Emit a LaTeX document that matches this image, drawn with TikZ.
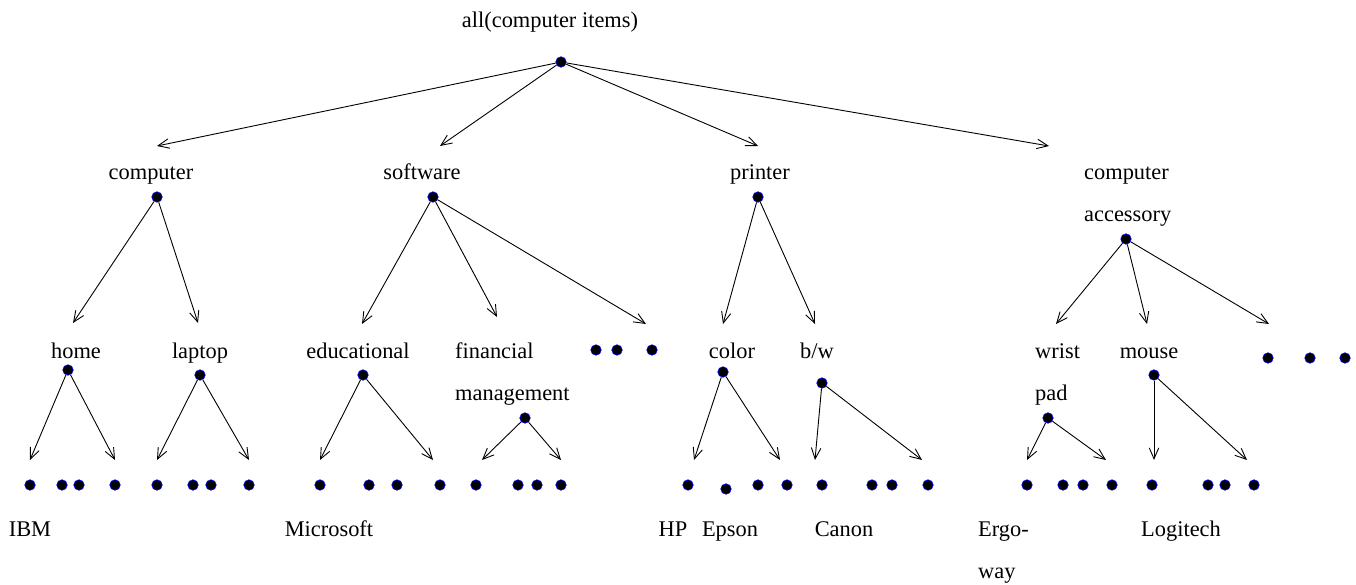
\documentclass[tikz,border=0pt]{standalone}
\usepackage{fontspec}
\setmainfont{Liberation Serif}
\usetikzlibrary{arrows.meta}
\tikzset{
  bluedot/.style={circle, fill=black, draw=blue, line width=0.6pt, inner sep=0pt, minimum size=10.5pt},
  lbl/.style={font=\fontsize{22.4}{27}\selectfont, inner sep=0pt, anchor=base},
  lbll/.style={lbl, anchor=base west},
  edge/.style={line width=0.9pt, -{Straight Barb[length=11pt,width=9.5pt,line width=0.9pt]}}
}
\begin{document}
\begin{tikzpicture}[x=1pt,y=-1pt]
\useasboundingbox (0,0) rectangle (1356,585);
% labels
\node[lbl] (Lroot) at (550,28) {all(computer items)};
\node[lbl] (Lcomp) at (151,180) {computer};
\node[lbl] (Lsoft) at (422,180) {software};
\node[lbl] (Lprin) at (760,180) {printer};
\node[lbll] (Lacc1) at (1084,180) {computer};
\node[lbll] (Lacc2) at (1084,222) {accessory};
\node[lbl] (Lhome) at (76,358) {home};
\node[lbl] (Llap) at (200,358) {laptop};
\node[lbl] (Ledu) at (358,358) {educational};
\node[lbll] (Lfin1) at (455,358) {financial};
\node[lbll] (Lfin2) at (455,400) {management};
\node[lbl] (Lcol) at (732,358) {color};
\node[lbl] (Lbw) at (817,358) {b/w};
\node[lbll] (Lwr1) at (1035,358) {wrist};
\node[lbll] (Lwr2) at (1035,400) {pad};
\node[lbl] (Lmou) at (1149,358) {mouse};
\node[lbl] (Libm) at (30,536) {IBM};
\node[lbl] (Lms) at (329,536) {Microsoft};
\node[lbl] (Lhp) at (673,536) {HP};
\node[lbl] (Leps) at (730,536) {Epson};
\node[lbl] (Lcan) at (844,536) {Canon};
\node[lbll] (Lerg1) at (978,536) {Ergo-};
\node[lbll] (Lerg2) at (978,578) {way};
\node[lbl] (Llog) at (1181,536) {Logitech};
% concept dots
\node[bluedot] (R) at (561,62) {};
\node[bluedot] (Dcomp) at (157,197) {};
\node[bluedot] (Dsoft) at (433,197) {};
\node[bluedot] (Dprin) at (758,197) {};
\node[bluedot] (Dacc) at (1126,239) {};
\node[bluedot] (Dhome) at (68,370) {};
\node[bluedot] (Dlap) at (200,375) {};
\node[bluedot] (Dedu) at (363,375) {};
\node[bluedot] (Dfin) at (525,418) {};
\node[bluedot] (Dcol) at (723,372) {};
\node[bluedot] (Dbw) at (822,383) {};
\node[bluedot] (Dwr) at (1048,418) {};
\node[bluedot] (Dmou) at (1154,375) {};
\foreach \x/\k in {596/1,617/2,652/3}
  \node[bluedot] (sd\k) at (\x,350) {};
\foreach \x/\k in {1268/1,1310/2,1345/3}
  \node[bluedot] (ad\k) at (\x,358) {};
\foreach \x [count=\k] in {30,62,79,115,157,193,211,249,320,369,397,440,476,518,537,561,688,758,787,822,872,892,928,1027,1063,1083,1112,1152,1208,1225,1254}
  \node[bluedot] (leaf\k) at (\x,485) {};
\node[bluedot] (leafEpson) at (726,489) {};
% arrow tips (free ends)
\coordinate (t1) at (157,146);
\coordinate (t2) at (440,146);
\coordinate (t3) at (758,146);
\coordinate (t4) at (1049,146);
\coordinate (c1) at (73,323);
\coordinate (c2) at (198,323);
\coordinate (s1) at (362,324);
\coordinate (s2) at (497,317);
\coordinate (s3) at (646,324);
\coordinate (p1) at (723,324);
\coordinate (p2) at (815,324);
\coordinate (a1) at (1056,324);
\coordinate (a2) at (1147,324);
\coordinate (a3) at (1269,324);
\coordinate (h1) at (30,460);
\coordinate (h2) at (115,460);
\coordinate (l1) at (157,460);
\coordinate (l2) at (249,460);
\coordinate (e1) at (320,460);
\coordinate (e2) at (433,460);
\coordinate (m1) at (482,460);
\coordinate (m2) at (561,460);
\coordinate (o1) at (694,460);
\coordinate (o2) at (780,460);
\coordinate (b1) at (815,460);
\coordinate (b2) at (922,460);
\coordinate (w1) at (1027,460);
\coordinate (w2) at (1106,460);
\coordinate (u1) at (1154,460);
\coordinate (u2) at (1247,460);
% edges
\foreach \a/\b in {R/t1,R/t2,R/t3,R/t4,
  Dcomp/c1,Dcomp/c2,Dsoft/s1,Dsoft/s2,Dsoft/s3,Dprin/p1,Dprin/p2,
  Dacc/a1,Dacc/a2,Dacc/a3,Dhome/h1,Dhome/h2,Dlap/l1,Dlap/l2,
  Dedu/e1,Dedu/e2,Dfin/m1,Dfin/m2,Dcol/o1,Dcol/o2,Dbw/b1,Dbw/b2,
  Dwr/w1,Dwr/w2,Dmou/u1,Dmou/u2}
  \draw[edge] (\a) -- (\b);
\end{tikzpicture}
\end{document}
